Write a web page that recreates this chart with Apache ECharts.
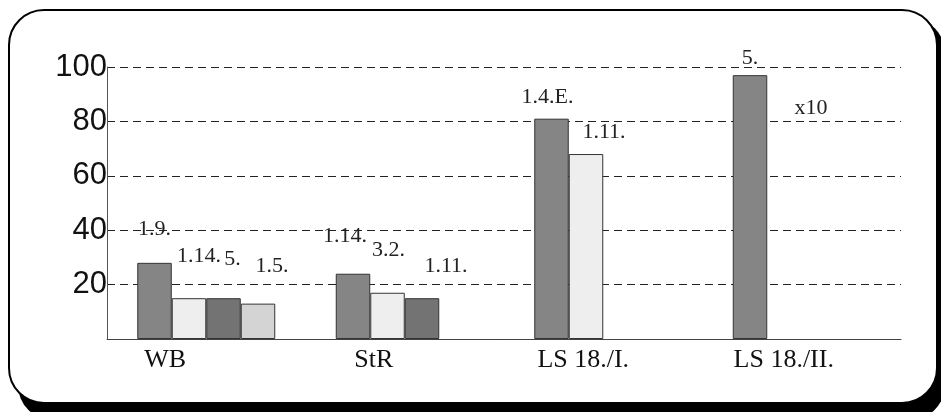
<!DOCTYPE html>
<html>
<head>
<meta charset="utf-8">
<script src="https://cdn.jsdelivr.net/npm/echarts@6/dist/echarts.min.js"></script>
<style>
html,body{margin:0;padding:0;background:#fff;}
#chart{width:941px;height:412px;}
</style>
</head>
<body>
<div id="chart"></div>
<script>
var categories = ['WB', 'StR', 'LS 18./I.', 'LS 18./II.'];
var yTicks = [0, 20, 40, 60, 80, 100];
var series1 = [28, 24, 81, 97];
var series2 = [15, 17, 68, null];
var series3 = [15, 15, null, null];
var series4 = [13, null, null, null];
var labels1 = ['1.9.', '1.14.', '1.4.E.', '5.'];
var labels2 = ['1.14.', '3.2.', '1.11.', ''];
var labels3 = ['5.', '1.11.', '', ''];
var labels4 = ['1.5.', '', '', ''];
var noteText = 'x10';
var noteValue = 85;

// label offsets (style only)
var off1 = [[0,-18],[-8,-22],[-4,-5],[0,-1]];
var off2 = [[10,-26],[1,-27],[18,-6],[0,0]];
var off3 = [[9,-23],[24,-16],[0,0],[0,0]];
var off4 = [[14,-21],[0,0],[0,0],[0,0]];
var catShift = [82, 62, 40, 36];

var labelFont = {fontFamily:'Liberation Serif', fontSize:22, color:'#222'};

function mkData(vals, texts, offs){
  return vals.map(function(v,i){
    return {value: v, label: {show: !!texts[i], formatter: texts[i], offset: offs[i]}};
  });
}
function mkSeries(name, vals, texts, offs, color){
  return {
    name: name, type: 'bar', barWidth: 34.5, barGap: '0%',
    data: mkData(vals, texts, offs),
    itemStyle: {color: color, borderColor: '#333', borderWidth: 1},
    label: Object.assign({position:'top', distance:5}, labelFont),
    emphasis: {disabled: true},
    animation: false
  };
}

var rich = {};
catShift.forEach(function(s,i){
  rich['c'+i] = {fontFamily:'Liberation Serif', fontSize:26, color:'#111', padding:[0, s, 0, 0]};
});

var chart = echarts.init(document.getElementById('chart'));
var s1 = mkSeries('s1', series1, labels1, off1, '#858585');
s1.markPoint = {
  symbol: 'circle', symbolSize: 0,
  data: [{coord: [categories[3], noteValue], value: noteText}],
  label: Object.assign({show:true, formatter: noteText, offset:[61,0], position:'inside'}, labelFont),
  animation: false
};
chart.setOption({
  animation: false,
  backgroundColor: '#fff',
  graphic: [
    {type:'rect', z:-10, silent:true, shape:{x:18, y:18, width:927, height:402, r:35}, style:{fill:'#000'}},
    {type:'rect', z:-9, silent:true, shape:{x:9, y:10, width:928, height:393, r:35}, style:{fill:'#fff', stroke:'#000', lineWidth:2}}
  ],
  grid: {left:107, right:40, top:67, bottom:73},
  xAxis: {
    type:'category', data: categories,
    axisLine: {show:true, lineStyle:{color:'#444', width:1}},
    axisTick: {show:false},
    axisLabel: {
      margin: 8,
      formatter: function(v, i){ return '{c' + i + '|' + v + '}'; },
      rich: rich
    }
  },
  yAxis: {
    type:'value', min: yTicks[0], max: yTicks[yTicks.length-1], interval: yTicks[1]-yTicks[0],
    axisLine: {show:true, lineStyle:{color:'#555', width:1}},
    axisTick: {show:false},
    splitLine: {show:true, lineStyle:{color:'#222', width:1, type:[8,5]}},
    axisLabel: {
      showMinLabel: false, margin: 0,
      fontFamily:'Liberation Sans', fontSize:31, color:'#111'
    }
  },
  series: [
    s1,
    mkSeries('s2', series2, labels2, off2, '#eeeeee'),
    mkSeries('s3', series3, labels3, off3, '#737373'),
    mkSeries('s4', series4, labels4, off4, '#d4d4d4')
  ]
});
</script>
</body>
</html>
